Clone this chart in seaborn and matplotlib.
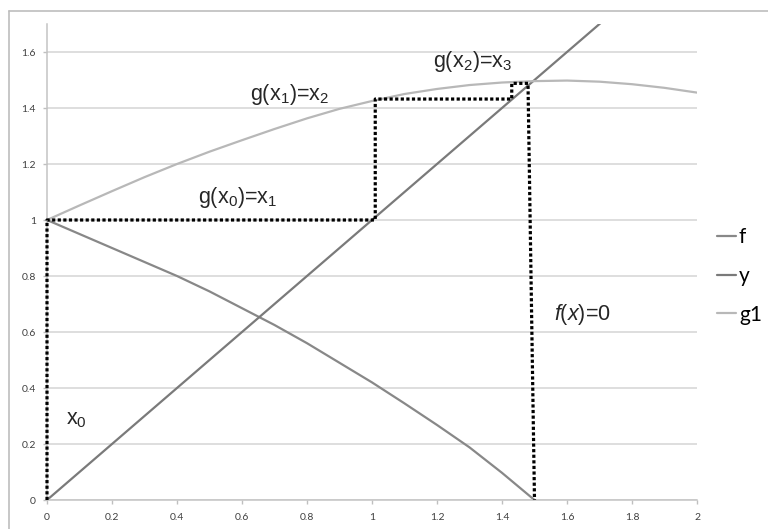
import numpy as np
import pandas as pd
import matplotlib
matplotlib.use("Agg")
import matplotlib.pyplot as plt
import seaborn as sns
from matplotlib.lines import Line2D

# ---- data ----
f_x = [0, 0.1, 0.2, 0.3, 0.4, 0.5, 0.6, 0.7, 0.8, 0.9, 1.0, 1.1, 1.2, 1.3, 1.4, 1.5]
f_y = [1.0, 0.95, 0.9, 0.85, 0.8, 0.745, 0.685, 0.625, 0.56, 0.49, 0.42, 0.345, 0.268, 0.188, 0.097, 0.0]

y_x = [0, 2]
y_y = [0, 2]

g1_x = [0, 0.1, 0.2, 0.3, 0.4, 0.5, 0.6, 0.7, 0.8, 0.9, 1.0, 1.1, 1.2, 1.3, 1.4,
        1.5, 1.6, 1.7, 1.8, 1.9, 2.0]
g1_y = [1.0, 1.052, 1.103, 1.153, 1.2, 1.244, 1.285, 1.325, 1.363, 1.397, 1.425,
        1.45, 1.468, 1.482, 1.491, 1.496, 1.498, 1.494, 1.485, 1.472, 1.455]

cobweb_x = [0, 0, 1.01, 1.01, 1.43, 1.43, 1.48, 1.50]
cobweb_y = [0, 1.0, 1.0, 1.432, 1.432, 1.488, 1.488, 0]

x_ticks = [0, 0.2, 0.4, 0.6, 0.8, 1, 1.2, 1.4, 1.6, 1.8, 2]
x_ticklabels = ["0", "0.2", "0.4", "0.6", "0.8", "1", "1.2", "1.4", "1.6", "1.8", "2"]
y_ticks = [0, 0.2, 0.4, 0.6, 0.8, 1, 1.2, 1.4, 1.6]
y_ticklabels = ["0", "0.2", "0.4", "0.6", "0.8", "1", "1.2", "1.4", "1.6"]

series_names = ["f", "y", "g1"]
series_colors = {"f": "#888888", "y": "#7a7a7a", "g1": "#b8b8b8"}

df = pd.concat([
    pd.DataFrame({"x": f_x, "val": f_y, "series": "f"}),
    pd.DataFrame({"x": y_x, "val": y_y, "series": "y"}),
    pd.DataFrame({"x": g1_x, "val": g1_y, "series": "g1"}),
], ignore_index=True)

sns.set_style("white")
plt.rcParams["font.family"] = ["Liberation Sans", "DejaVu Sans"]
plt.rcParams["mathtext.fontset"] = "custom"
plt.rcParams["mathtext.rm"] = "Liberation Sans"
plt.rcParams["mathtext.it"] = "Liberation Sans:italic"

fig = plt.figure(figsize=(7.68, 5.29), dpi=100)
ax = fig.add_axes([47 / 768, 1 - 500 / 529, 650 / 768, 476 / 529])

sns.lineplot(data=df, x="x", y="val", hue="series", hue_order=series_names,
             palette=series_colors, sort=False, estimator=None, linewidth=1.6,
             ax=ax)

ax.plot(cobweb_x, cobweb_y, color="black", linewidth=2.3,
        dashes=(1, 0.75), dash_capstyle="butt", solid_joinstyle="miter",
        zorder=5, clip_on=False)

ax.set_xlim(0, 2)
ax.set_ylim(0, 1.7)
ax.set_xticks(x_ticks)
ax.set_xticklabels(x_ticklabels)
ax.set_yticks(y_ticks)
ax.set_yticklabels(y_ticklabels)
ax.set_xlabel("")
ax.set_ylabel("")

for lab in ax.get_xticklabels() + ax.get_yticklabels():
    lab.set_family(["Lato", "DejaVu Sans"])
    lab.set_fontsize(7.5)
    lab.set_color("#404040")

ax.tick_params(axis="both", which="both", length=3, width=1, color="#bfbfbf",
               direction="out", bottom=True, left=True)
ax.tick_params(axis="x", pad=6)
ax.tick_params(axis="y", pad=5)

ax.yaxis.grid(True, color="#d4d4d4", linewidth=1.1)
ax.xaxis.grid(False)
ax.set_axisbelow(True)
for side in ["top", "right"]:
    ax.spines[side].set_visible(False)
for side in ["left", "bottom"]:
    ax.spines[side].set_color("#c4c4c4")
    ax.spines[side].set_linewidth(1.1)

# annotations
fs = 15.5
ax.text(0.465, 1.06, "g(x$\\mathregular{_0}$)=x$\\mathregular{_1}$", fontsize=fs,
        ha="left", va="baseline")
ax.text(0.625, 1.43, "g(x$\\mathregular{_1}$)=x$\\mathregular{_2}$", fontsize=fs,
        ha="left", va="baseline")
ax.text(1.188, 1.548, "g(x$\\mathregular{_2}$)=x$\\mathregular{_3}$", fontsize=fs,
        ha="left", va="baseline")
ax.text(1.56, 0.643, "$\\mathit{f}$($\\mathit{x}$)=0", fontsize=fs,
        ha="left", va="baseline")
ax.text(0.0575, 0.271, "x$\\mathregular{_0}$", fontsize=fs, ha="left", va="baseline")

# legend
handles, labels = ax.get_legend_handles_labels()
leg = ax.legend(handles, labels, loc="center left",
                bbox_to_anchor=(717 / 768, 1 - 276 / 529),
                bbox_transform=fig.transFigure, frameon=False, borderpad=0,
                borderaxespad=0, handlelength=0.9, handletextpad=0.15,
                labelspacing=0.9, prop={"family": ["Lato", "DejaVu Sans"], "size": 15})
for t in leg.get_texts():
    t.set_color("#000000")

# outer chart border
fig.add_artist(Line2D([9 / 768, 1.0], [1 - 11 / 529, 1 - 11 / 529],
                      transform=fig.transFigure, color="#bdbdbd", linewidth=1.2))
fig.add_artist(Line2D([9 / 768, 9 / 768], [0, 1 - 11 / 529],
                      transform=fig.transFigure, color="#bdbdbd", linewidth=1.2))

fig.savefig("out.png", dpi=100)
